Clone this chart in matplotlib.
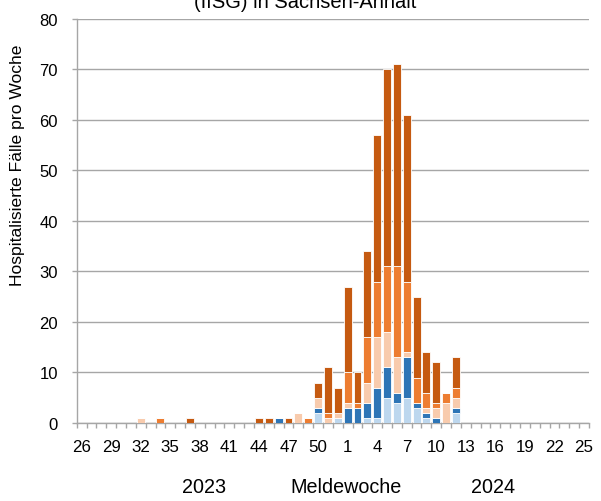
import numpy as np
import matplotlib
matplotlib.use('Agg')
import matplotlib.pyplot as plt

plt.rcParams['font.family'] = ['Liberation Sans', 'DejaVu Sans']

# Meldewochen 26/2023 ... 52/2023, 1/2024 ... 25/2024
wochen_2023 = list(range(26, 53))
wochen_2024 = list(range(1, 26))

# Fälle pro Woche, je Gruppe (2023: KW 26-52, 2024: KW 1-25)
hellblau_23 = [0, 0, 0, 0, 0, 0, 0, 0, 0, 0, 0, 0, 0, 0, 0, 0, 0, 0, 0, 0, 0, 0, 0, 0, 2, 0, 1]
hellblau_24 = [0, 0, 1, 1, 5, 4, 5, 3, 1, 0, 0, 2, 0, 0, 0, 0, 0, 0, 0, 0, 0, 0, 0, 0, 0]

blau_23 = [0, 0, 0, 0, 0, 0, 0, 0, 0, 0, 0, 0, 0, 0, 0, 0, 0, 0, 0, 0, 1, 0, 0, 0, 1, 0, 0]
blau_24 = [3, 3, 3, 6, 6, 2, 8, 1, 1, 1, 0, 1, 0, 0, 0, 0, 0, 0, 0, 0, 0, 0, 0, 0, 0]

hellorange_23 = [0, 0, 0, 0, 0, 0, 1, 0, 0, 0, 0, 0, 0, 0, 0, 0, 0, 0, 0, 0, 0, 0, 2, 0, 2, 1, 1]
hellorange_24 = [1, 0, 4, 10, 7, 7, 1, 0, 1, 2, 4, 2, 0, 0, 0, 0, 0, 0, 0, 0, 0, 0, 0, 0, 0]

orange_23 = [0, 0, 0, 0, 0, 0, 0, 0, 1, 0, 0, 0, 0, 0, 0, 0, 0, 0, 0, 0, 0, 0, 0, 1, 0, 1, 0]
orange_24 = [6, 1, 9, 11, 13, 18, 14, 5, 3, 1, 2, 2, 0, 0, 0, 0, 0, 0, 0, 0, 0, 0, 0, 0, 0]

dunkelorange_23 = [0, 0, 0, 0, 0, 0, 0, 0, 0, 0, 0, 1, 0, 0, 0, 0, 0, 0, 1, 1, 0, 1, 0, 0, 3, 9, 5]
dunkelorange_24 = [17, 6, 17, 29, 39, 40, 33, 16, 8, 8, 0, 6, 0, 0, 0, 0, 0, 0, 0, 0, 0, 0, 0, 0, 0]

wochen = wochen_2023 + wochen_2024
serien = [hellblau_23 + hellblau_24,
          blau_23 + blau_24,
          hellorange_23 + hellorange_24,
          orange_23 + orange_24,
          dunkelorange_23 + dunkelorange_24]
farben = ['#BDD7EE', '#2E75B6', '#F8CBAD', '#ED7D31', '#C55A11']

grau = '#A6A6A6'

fig = plt.figure(figsize=(6.01, 5.02), dpi=100)
ax = fig.add_axes([0.1276, 0.1554, 0.9800 - 0.1276, 0.9602 - 0.1554])

index = np.arange(len(wochen))
unten = np.zeros(len(wochen))
for werte, farbe in zip(serien, farben):
    werte = np.array(werte, dtype=float)
    ax.bar(index, werte, 0.8, bottom=unten, color=farbe, edgecolor='white',
           linewidth=0.6, zorder=3)
    unten += werte

ax.set_xlim(-0.5, len(wochen) - 0.5)
ax.set_ylim(0, 80)
ax.set_yticks(np.arange(0, 81, 10))
ax.yaxis.grid(True, color=grau, linewidth=1.0, zorder=0)
ax.set_axisbelow(True)

ax.set_xticks(index[::3])
ax.set_xticklabels([str(w) for w in wochen[::3]])
ax.set_xticks(np.arange(-0.5, len(wochen)), minor=True)
ax.tick_params(axis='x', which='major', length=0, pad=11.6, labelsize=12.2)
ax.tick_params(axis='x', which='minor', length=3.6, color=grau, width=1)
ax.tick_params(axis='y', length=3.6, color=grau, width=1, pad=9.9, labelsize=12)

for s in ['top', 'right']:
    ax.spines[s].set_visible(False)
for s in ['left', 'bottom']:
    ax.spines[s].set_color(grau)
    ax.spines[s].set_linewidth(1.0)

fig.text(18 / 601, 1 - 165 / 502, 'Hospitalisierte Fälle pro Woche', rotation=90,
         ha='center', va='center', fontsize=12.6)

fig.text(204 / 601, 1 - 488 / 502, '2023', ha='center', va='center', fontsize=14.2)
fig.text(346 / 601, 1 - 488 / 502, 'Meldewoche', ha='center', va='center', fontsize=14.2)
fig.text(493 / 601, 1 - 488 / 502, '2024', ha='center', va='center', fontsize=14.2)

fig.text(305 / 601, 1 - 8 / 502, '(IfSG) in Sachsen-Anhalt', ha='center',
         va='baseline', fontsize=14.5)

fig.savefig('out.png', dpi=100)
